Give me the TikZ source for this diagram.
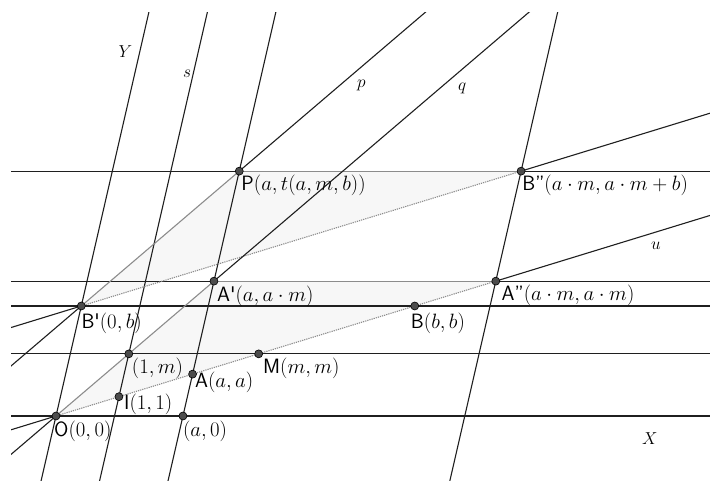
\documentclass[tikz,border=0pt]{standalone}
\usetikzlibrary{calc}
\newcommand\affpt[3]{\coordinate (#1) at ({56+58.5*(#2)+4.439*(#3)},{416-19.3*(#3)});}
\begin{document}
\begin{tikzpicture}[x=1pt,y=-1pt,
  ln/.style={line width=1.1pt, draw=black!88},
  edge/.style={line width=1.1pt, draw=black!45},
  dots/.style={line width=1.1pt, draw=black!45, dash pattern=on 1.2pt off 1pt},
  pt/.style={circle, fill=black!70, draw=black, line width=0.6pt, inner sep=0pt, minimum size=8pt},
  lab/.style={anchor=west, inner sep=0pt, font=\fontsize{20.74}{24}\selectfont},
  nm/.style={anchor=base west, inner sep=0pt, font=\fontsize{17.28}{20}\selectfont}]
\useasboundingbox (0,0) rectangle (710,481);
\affpt{O}{0}{0}
\affpt{I}{1}{1}
\affpt{Om}{1}{3.22}
\affpt{A0}{2.17}{0}
\affpt{A}{2.17}{2.17}
\affpt{M}{3.22}{3.22}
\affpt{Bp}{0}{5.7}
\affpt{B}{5.7}{5.7}
\affpt{Ap}{2.17}{6.9874}
\affpt{App}{6.9874}{6.9874}
\affpt{P}{2.17}{12.6874}
\affpt{Bpp}{6.9874}{12.6874}

\fill[black!3] (O) -- (Ap) -- (App) -- cycle;
\fill[black!3] (Bp) -- (P) -- (Bpp) -- cycle;

\begin{scope}
\clip (11,13) rectangle (710,481);
% lines parallel to X
\draw[ln] ($(O)+(-100,0)$) -- ($(O)+(800,0)$);
\draw[ln] ($(Om)+(-200,0)$) -- ($(Om)+(800,0)$);
\draw[ln] ($(Bp)+(-100,0)$) -- ($(Bp)+(800,0)$);
\draw[ln] ($(Ap)+(-300,0)$) -- (Ap);
\draw[ln] (App) -- ($(App)+(300,0)$);
\draw[edge] (Ap) -- (App);
\draw[ln] ($(P)+(-300,0)$) -- (P);
\draw[ln] (Bpp) -- ($(Bpp)+(300,0)$);
\draw[edge] (P) -- (Bpp);
% lines parallel to Y
\draw[ln] ($(O)!-3!(Bp)$) -- ($(O)!5!(Bp)$);
\draw[ln] ($(I)!-20!(Om)$) -- ($(I)!20!(Om)$);
\draw[ln] ($(A0)!-5!(P)$) -- ($(A0)!5!(P)$);
\draw[ln] ($(App)!-5!(Bpp)$) -- ($(App)!5!(Bpp)$);
% u : y = x
\draw[ln] ($(O)!-3!(App)$) -- (O);
\draw[ln] (App) -- ($(O)!3!(App)$);
\draw[dots] (O) -- (App);
% y = x + b
\draw[ln] ($(Bp)!-3!(Bpp)$) -- (Bp);
\draw[ln] (Bpp) -- ($(Bp)!3!(Bpp)$);
\draw[dots] (Bp) -- (Bpp);
% q : y = m x
\draw[ln] ($(O)!-3!(Ap)$) -- (O);
\draw[ln] (Ap) -- ($(O)!5!(Ap)$);
\draw[edge] (O) -- (Ap);
% p : y = m x + b
\draw[ln] ($(Bp)!-3!(P)$) -- (Bp);
\draw[ln] (P) -- ($(Bp)!5!(P)$);
\draw[edge] (Bp) -- (P);
\end{scope}

% points
\foreach \c in {O,I,Om,A0,A,M,Bp,B,Ap,App,P,Bpp}
  \node[pt] (n\c) at (\c) {};

% point labels
\node[lab] (lO) at ($(O)+(-2,15.5)$) {\textsf{O}$(0,0)$};
\node[lab] (lI) at ($(I)+(5,7.3)$) {\textsf{I}$(1,1)$};
\node[lab] (lOm) at ($(Om)+(3,14)$) {$(1,m)$};
\node[lab] (lA0) at ($(A0)+(0,15)$) {$(a,0)$};
\node[lab] (lA) at ($(A)+(2.3,7.7)$) {\textsf{A}$(a,a)$};
\node[lab] (lM) at ($(M)+(4.3,14.7)$) {\textsf{M}$(m,m)$};
\node[lab] (lBp) at ($(Bp)+(0,17.5)$) {\textsf{B\textquotesingle}$(0,b)$};
\node[lab] (lB) at ($(B)+(-4,17)$) {\textsf{B}$(b,b)$};
\node[lab] (lAp) at ($(Ap)+(3,15)$) {\textsf{A\textquotesingle}$(a,a\cdot m)$};
\node[lab] (lApp) at ($(App)+(5.6,14)$) {\textsf{A"}$(a\cdot m,a\cdot m)$};
\node[lab] (lP) at ($(P)+(2,14)$) {\textsf{P}$(a,t(a,m,b))$};
\node[lab] (lBpp) at ($(Bpp)+(1,14)$) {\textsf{B"}$(a\cdot m,a\cdot m+b)$};

% line names
\node[nm] (tY) at (118.5,58) {$Y$};
\node[nm] (ts) at (183,78) {$s$};
\node[nm] (tp) at (357,88) {$p$};
\node[nm] (tq) at (458,91) {$q$};
\node[nm] (tu) at (651,250) {$u$};
\node[nm] (tX) at (642,444) {$X$};
\end{tikzpicture}
\end{document}
